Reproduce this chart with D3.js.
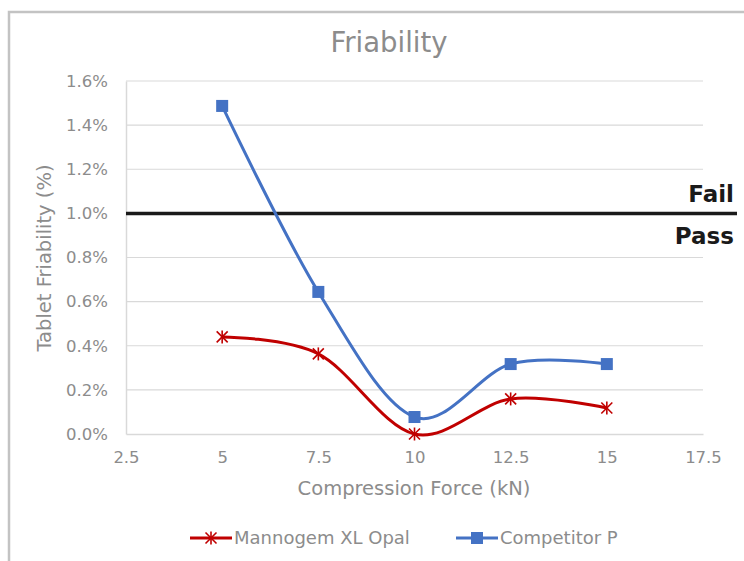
<!DOCTYPE html>
<html>
<head>
<meta charset="utf-8">
<script src="https://cdn.jsdelivr.net/npm/d3@7"></script>
<style>
  body { margin: 0; background: #fff; }
  svg { display: block; font-family: "DejaVu Sans", "Open Sans", sans-serif; }
</style>
</head>
<body>
<div id="chart"></div>
<script>
// chart values
const forces = [5, 7.5, 10, 12.5, 15];
const mannogem = [0.44, 0.363, 0.0, 0.159, 0.118];
const competitor = [1.487, 0.644, 0.077, 0.317, 0.317];
const xTicks = [2.5, 5, 7.5, 10, 12.5, 15, 17.5];
const yTicks = [0, 0.2, 0.4, 0.6, 0.8, 1.0, 1.2, 1.4, 1.6];
const limit = 1.0;
const seriesNames = ["Mannogem XL Opal", "Competitor P"];

const width = 744, height = 561;
const grey = "#8c8c8c";
const font = "DejaVu Sans, sans-serif";

const svg = d3.select("#chart").append("svg")
    .attr("width", width)
    .attr("height", height);

// outer frame
svg.append("rect")
    .attr("x", 9).attr("y", 12)
    .attr("width", 800).attr("height", 600)
    .attr("fill", "#fff")
    .attr("stroke", "#c3c3c3")
    .attr("stroke-width", 2.5);

const x = d3.scaleLinear().domain([2.5, 17.5]).range([126, 703]);
const y = d3.scaleLinear().domain([0, 1.6]).range([434, 81]);

// gridlines
svg.append("g")
    .selectAll("line")
    .data(yTicks.slice(1))
    .join("line")
    .attr("x1", x(2.5)).attr("x2", x(17.5))
    .attr("y1", d => y(d)).attr("y2", d => y(d))
    .attr("stroke", "#d9d9d9")
    .attr("stroke-width", 1.2);

// axes
const yAxis = svg.append("g")
    .attr("transform", `translate(${x(2.5)},0)`)
    .call(d3.axisLeft(y).tickValues(yTicks).tickSize(0).tickPadding(18)
        .tickFormat(d => d.toFixed(1) + "%"));
yAxis.attr("font-family", font);
yAxis.select(".domain").attr("stroke", "#d9d9d9").attr("stroke-width", 1.5);
yAxis.selectAll("text").attr("fill", grey).attr("font-size", 16.5);

const xAxis = svg.append("g")
    .attr("transform", `translate(0,${y(0)})`)
    .call(d3.axisBottom(x).tickValues(xTicks).tickSize(0).tickPadding(17)
        .tickFormat(d => d3.format("")(d)));
xAxis.attr("font-family", font);
xAxis.select(".domain").attr("stroke", "#d9d9d9").attr("stroke-width", 1.5);
xAxis.selectAll("text").attr("fill", grey).attr("font-size", 16.5);

// titles
svg.append("text")
    .attr("x", 389).attr("y", 52)
    .attr("text-anchor", "middle")
    .attr("fill", grey)
    .attr("font-size", 27.5)
    .text("Friability");

svg.append("text")
    .attr("x", 414).attr("y", 495)
    .attr("text-anchor", "middle")
    .attr("fill", grey)
    .attr("font-size", 19.5)
    .text("Compression Force (kN)");

svg.append("text")
    .attr("transform", `translate(51,${258}) rotate(-90)`)
    .attr("text-anchor", "middle")
    .attr("fill", grey)
    .attr("font-size", 19.5)
    .text("Tablet Friability (%)");

// pass / fail limit
svg.append("line")
    .attr("x1", x(2.5)).attr("x2", 737)
    .attr("y1", y(limit)).attr("y2", y(limit))
    .attr("stroke", "#1a1a1a")
    .attr("stroke-width", 3.5);

svg.append("text")
    .attr("x", 734).attr("y", y(limit) - 11)
    .attr("text-anchor", "end")
    .attr("font-size", 23).attr("font-weight", "bold")
    .attr("fill", "#1a1a1a")
    .text("Fail");
svg.append("text")
    .attr("x", 734).attr("y", y(limit) + 31)
    .attr("text-anchor", "end")
    .attr("font-size", 23).attr("font-weight", "bold")
    .attr("fill", "#1a1a1a")
    .text("Pass");

// series
const line = d3.line()
    .x(d => x(d[0]))
    .y(d => y(d[1]))
    .curve(d3.curveCardinal.tension(0));

function star(g, cx, cy, color) {
    const r = 5.5;
    const s = g.append("g").attr("stroke", color).attr("stroke-width", 1.6);
    s.append("line").attr("x1", cx - r).attr("x2", cx + r).attr("y1", cy - r).attr("y2", cy + r);
    s.append("line").attr("x1", cx - r).attr("x2", cx + r).attr("y1", cy + r).attr("y2", cy - r);
    s.append("line").attr("x1", cx).attr("x2", cx).attr("y1", cy - r - 1).attr("y2", cy + r + 1);
}

function square(g, cx, cy, color) {
    g.append("rect")
        .attr("x", cx - 6).attr("y", cy - 6)
        .attr("width", 12).attr("height", 12)
        .attr("fill", color);
}

const series = [
    { name: seriesNames[0], values: mannogem, color: "#c00000", marker: star },
    { name: seriesNames[1], values: competitor, color: "#4472c4", marker: square }
];

series.forEach(s => {
    const pts = forces.map((f, i) => [f, s.values[i]]);
    svg.append("path")
        .attr("d", line(pts))
        .attr("fill", "none")
        .attr("stroke", s.color)
        .attr("stroke-width", 3);
    const mg = svg.append("g");
    pts.forEach(p => s.marker(mg, x(p[0]), y(p[1]), s.color));
});

// legend
const legendX = [190, 456];
series.forEach((s, i) => {
    const lg = svg.append("g");
    const lx = legendX[i], ly = 538;
    lg.append("line")
        .attr("x1", lx).attr("x2", lx + 42)
        .attr("y1", ly).attr("y2", ly)
        .attr("stroke", s.color).attr("stroke-width", 3);
    s.marker(lg, lx + 21, ly, s.color);
    lg.append("text")
        .attr("x", lx + 44).attr("y", ly + 6)
        .attr("fill", grey)
        .attr("font-size", 18)
        .text(s.name);
});
</script>
</body>
</html>
